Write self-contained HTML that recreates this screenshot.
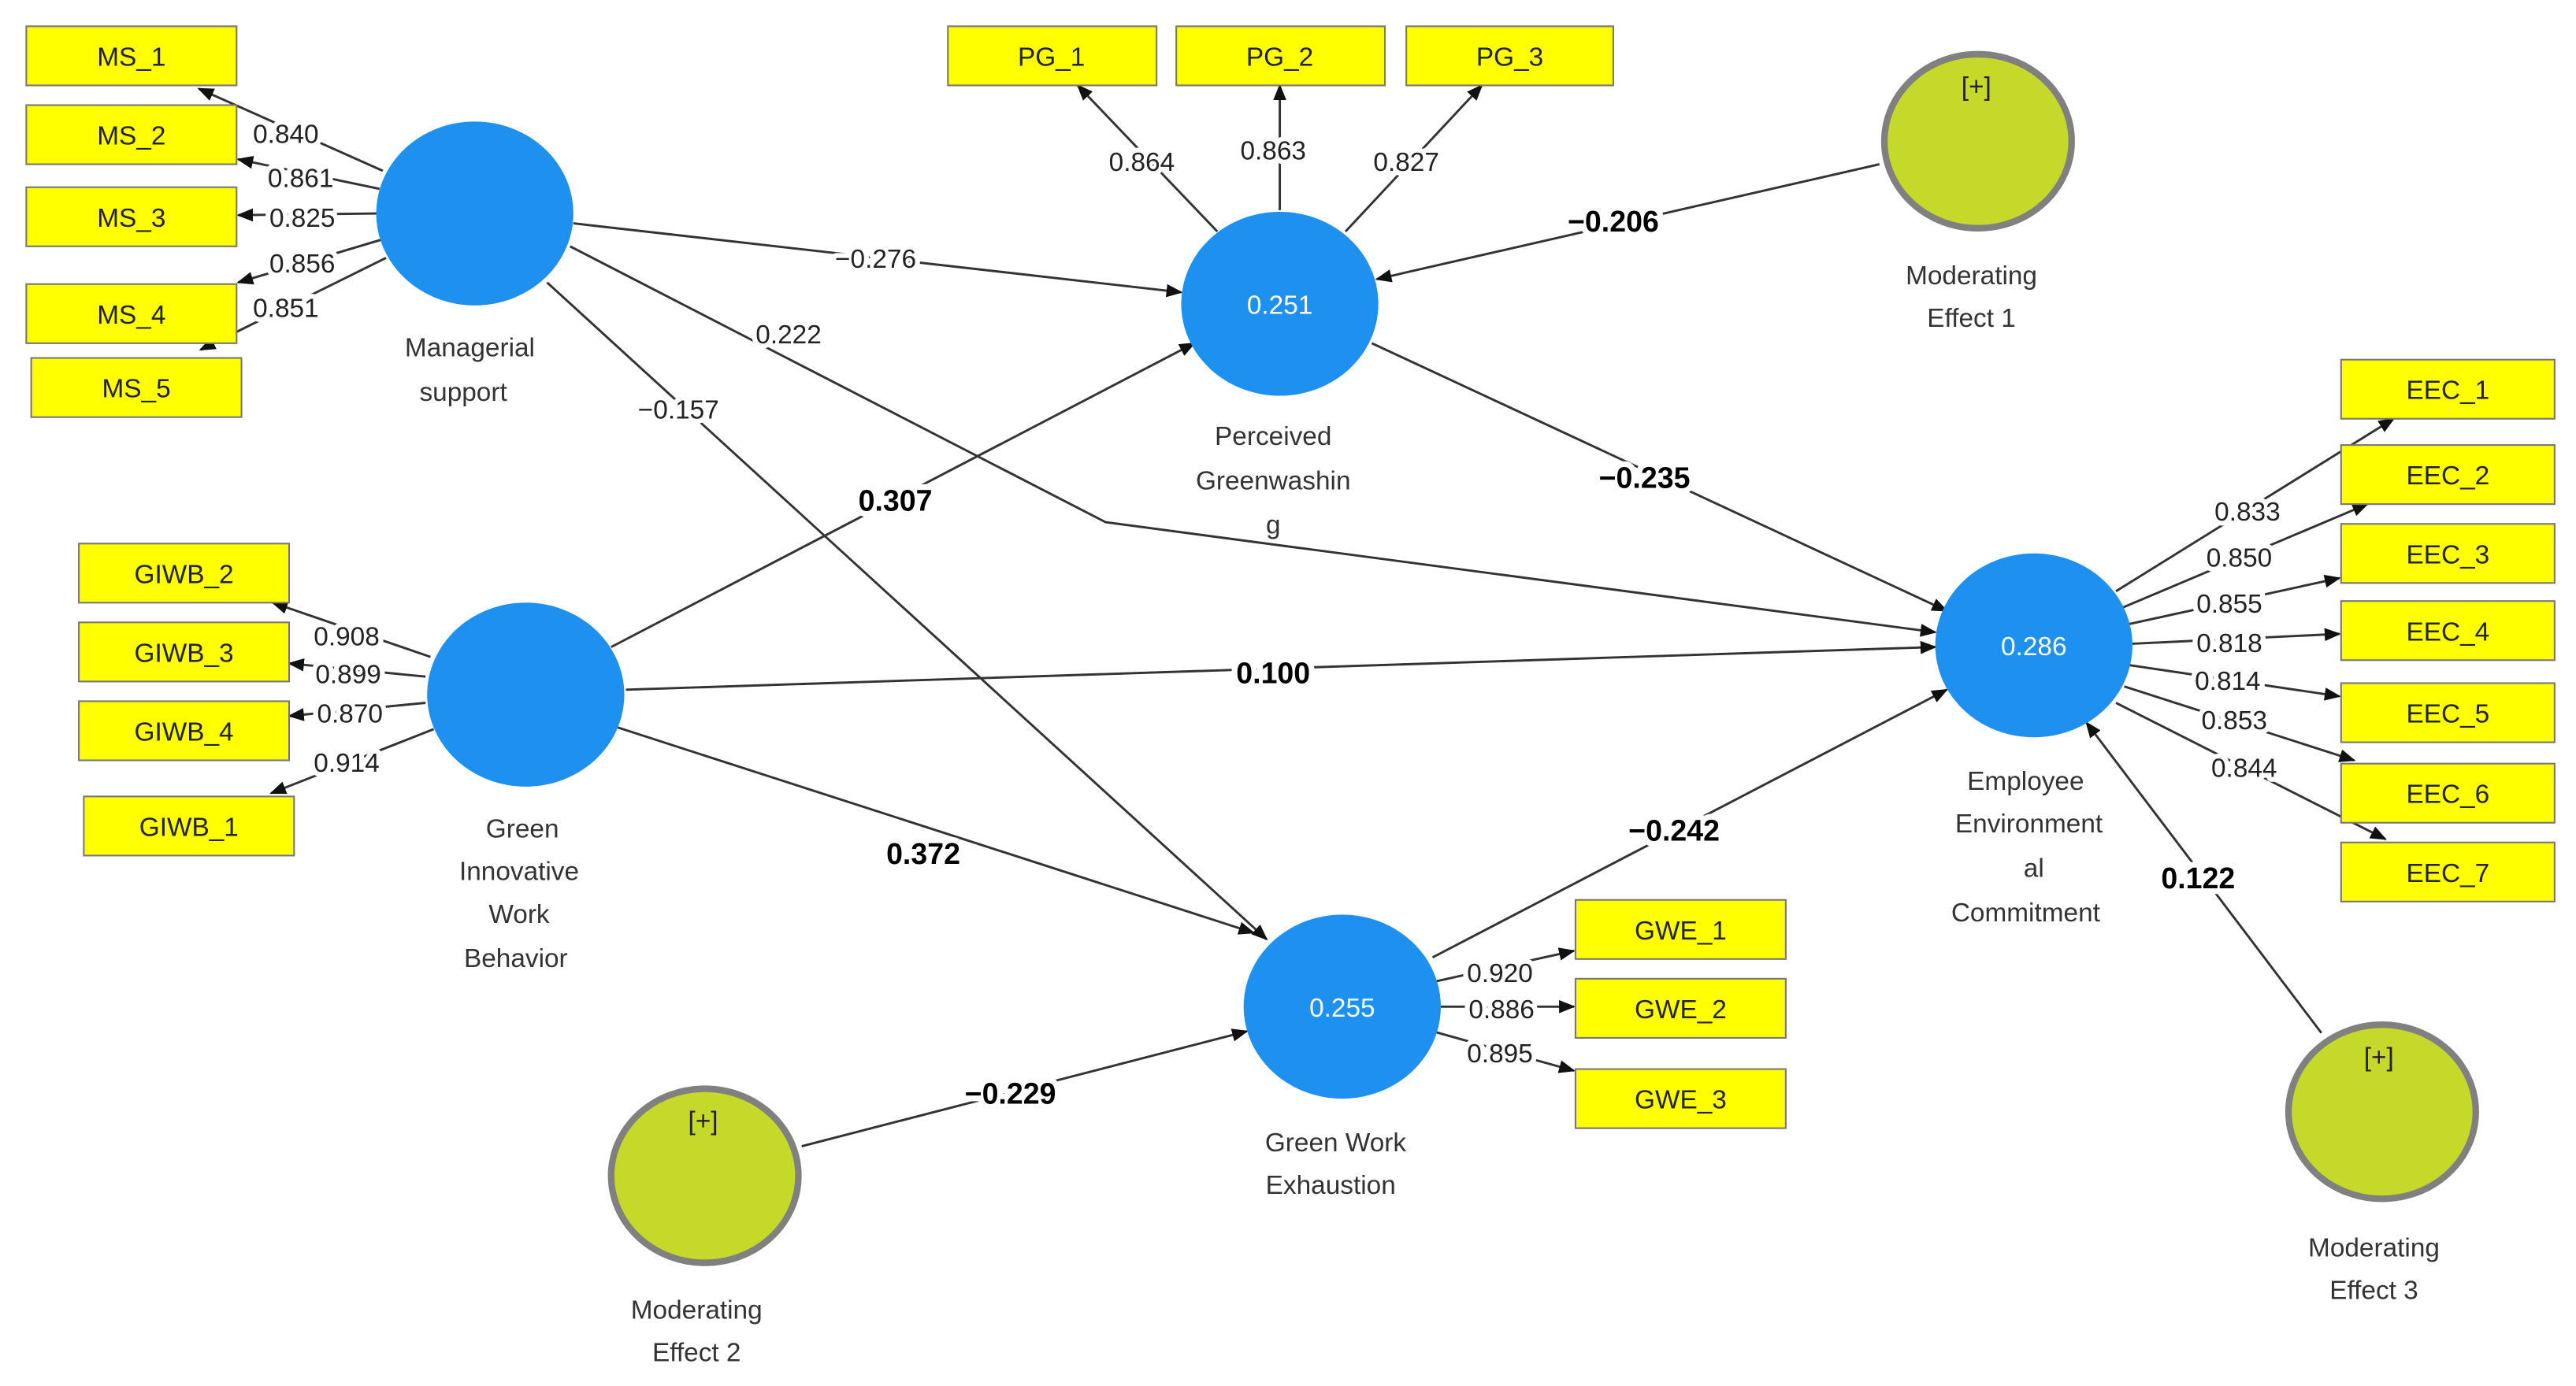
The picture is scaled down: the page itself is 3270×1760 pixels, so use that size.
<!DOCTYPE html>
<html><head><meta charset="utf-8"><style>
html,body{margin:0;padding:0;background:#fff;width:3270px;height:1760px;overflow:hidden}
svg{display:block}
text{font-family:"Liberation Sans","DejaVu Sans",sans-serif}
.l{font-size:16px;fill:#222;text-anchor:middle;stroke:#fff;stroke-width:6px;paint-order:stroke;stroke-linejoin:round}
.b{font-size:18px;font-weight:bold;fill:#000;text-anchor:middle;stroke:#fff;stroke-width:7px;paint-order:stroke;stroke-linejoin:round}
.c{font-size:16px;fill:#333;text-anchor:middle}
.bx{fill:#ffff00;stroke:#777;stroke-width:1}
.bt{font-size:16px;fill:#222;text-anchor:middle}
.ln{stroke:#333;stroke-width:1.4;fill:none;marker-end:url(#a)}
.bl{fill:#1e90f0}
.md{fill:#c5d92a;stroke:#808080;stroke-width:4}
.w{font-size:16px;fill:#fff;text-anchor:middle}
</style></head><body>
<svg width="3270" height="1760" viewBox="0 0 1568 844" preserveAspectRatio="none">
<defs><marker id="a" markerWidth="10" markerHeight="8" refX="9" refY="4" orient="auto" markerUnits="userSpaceOnUse"><path d="M0,0 L10,4 L0,8 z" fill="#111"/></marker></defs>

<!-- structural paths -->
<line class="ln" x1="349" y1="136" x2="719" y2="178"/>
<polyline class="ln" points="347,150 673,318 1178,385"/>
<line class="ln" x1="333" y1="172" x2="771" y2="572"/>
<line class="ln" x1="372" y1="394" x2="727" y2="209"/>
<line class="ln" x1="381" y1="420" x2="1178" y2="394"/>
<line class="ln" x1="376" y1="443" x2="763" y2="568"/>
<line class="ln" x1="835" y1="209" x2="1185" y2="372"/>
<line class="ln" x1="1144" y1="100" x2="838" y2="170"/>
<line class="ln" x1="872" y1="583" x2="1185" y2="420"/>
<line class="ln" x1="488" y1="698" x2="759" y2="628"/>
<line class="ln" x1="1413" y1="629" x2="1270" y2="440"/>

<!-- outer loadings -->
<line class="ln" x1="233" y1="104" x2="121" y2="54"/>
<line class="ln" x1="231" y1="115" x2="145" y2="97"/>
<line class="ln" x1="230" y1="130" x2="145" y2="131"/>
<line class="ln" x1="232" y1="146" x2="145" y2="172"/>
<line class="ln" x1="235" y1="157" x2="122" y2="213"/>
<line class="ln" x1="741" y1="141" x2="656" y2="52"/>
<line class="ln" x1="779" y1="128" x2="779" y2="52"/>
<line class="ln" x1="819" y1="141" x2="902" y2="52"/>
<line class="ln" x1="262" y1="400" x2="166" y2="367"/>
<line class="ln" x1="259" y1="412" x2="176" y2="404"/>
<line class="ln" x1="259" y1="428" x2="176" y2="436"/>
<line class="ln" x1="264" y1="444" x2="165" y2="483"/>
<line class="ln" x1="1288" y1="360" x2="1457" y2="255"/>
<line class="ln" x1="1292" y1="370" x2="1441" y2="307"/>
<line class="ln" x1="1296" y1="380" x2="1424" y2="352"/>
<line class="ln" x1="1298" y1="392" x2="1424" y2="386"/>
<line class="ln" x1="1296" y1="405" x2="1424" y2="424"/>
<line class="ln" x1="1293" y1="418" x2="1433" y2="463"/>
<line class="ln" x1="1288" y1="428" x2="1452" y2="511"/>
<line class="ln" x1="872" y1="598" x2="958" y2="579"/>
<line class="ln" x1="877" y1="613" x2="958" y2="613"/>
<line class="ln" x1="872" y1="628" x2="958" y2="652"/>

<!-- labels -->
<text class="l" x="533" y="163">−0.276</text>
<text class="l" x="480" y="209">0.222</text>
<text class="l" x="413" y="255">−0.157</text>
<text class="b" x="545" y="311">0.307</text>
<text class="b" x="775" y="416">0.100</text>
<text class="b" x="562" y="526">0.372</text>
<text class="b" x="1001" y="297">−0.235</text>
<text class="b" x="982" y="141">−0.206</text>
<text class="b" x="1019" y="512">−0.242</text>
<text class="b" x="615" y="672">−0.229</text>
<text class="b" x="1338" y="541">0.122</text>

<text class="l" x="174" y="87">0.840</text>
<text class="l" x="183" y="114">0.861</text>
<text class="l" x="184" y="138">0.825</text>
<text class="l" x="184" y="166">0.856</text>
<text class="l" x="174" y="193">0.851</text>
<text class="l" x="695" y="104">0.864</text>
<text class="l" x="775" y="97">0.863</text>
<text class="l" x="856" y="104">0.827</text>
<text class="l" x="211" y="393">0.908</text>
<text class="l" x="212" y="416">0.899</text>
<text class="l" x="213" y="440">0.870</text>
<text class="l" x="211" y="470">0.914</text>
<text class="l" x="1368" y="317">0.833</text>
<text class="l" x="1363" y="345">0.850</text>
<text class="l" x="1357" y="373">0.855</text>
<text class="l" x="1357" y="397">0.818</text>
<text class="l" x="1356" y="420">0.814</text>
<text class="l" x="1360" y="444">0.853</text>
<text class="l" x="1366" y="473">0.844</text>
<text class="l" x="913" y="598">0.920</text>
<text class="l" x="914" y="620">0.886</text>
<text class="l" x="913" y="647">0.895</text>

<!-- circles -->
<ellipse class="bl" cx="289" cy="130" rx="60" ry="56"/>
<ellipse class="bl" cx="779" cy="185" rx="60" ry="56"/><text class="w" x="779" y="191">0.251</text>
<ellipse class="bl" cx="320" cy="423" rx="60" ry="56"/>
<ellipse class="bl" cx="817" cy="613" rx="60" ry="56"/><text class="w" x="817" y="619">0.255</text>
<ellipse class="bl" cx="1238" cy="393" rx="60" ry="56"/><text class="w" x="1238" y="399">0.286</text>
<ellipse class="md" cx="1204" cy="86" rx="57" ry="53"/><text class="bt" x="1203" y="58">[+]</text>
<ellipse class="md" cx="429" cy="716" rx="57" ry="53"/><text class="bt" x="428" y="688">[+]</text>
<ellipse class="md" cx="1450" cy="677" rx="57" ry="53"/><text class="bt" x="1448" y="649">[+]</text>

<!-- captions -->
<text class="c" x="286" y="217">Managerial</text><text class="c" x="282" y="244">support</text>
<text class="c" x="775" y="271">Perceived</text><text class="c" x="775" y="298">Greenwashin</text><text class="c" x="775" y="325">g</text>
<text class="c" x="318" y="510">Green</text><text class="c" x="316" y="536">Innovative</text><text class="c" x="316" y="562">Work</text><text class="c" x="314" y="589">Behavior</text>
<text class="c" x="813" y="701">Green Work</text><text class="c" x="810" y="727">Exhaustion</text>
<text class="c" x="1233" y="481">Employee</text><text class="c" x="1235" y="507">Environment</text><text class="c" x="1238" y="534">al</text><text class="c" x="1233" y="561">Commitment</text>
<text class="c" x="1200" y="173">Moderating</text><text class="c" x="1200" y="199">Effect 1</text>
<text class="c" x="424" y="803">Moderating</text><text class="c" x="424" y="829">Effect 2</text>
<text class="c" x="1445" y="765">Moderating</text><text class="c" x="1445" y="791">Effect 3</text>

<!-- boxes -->
<rect class="bx" x="16" y="16" width="128" height="36"/><text class="bt" x="80" y="40">MS_1</text>
<rect class="bx" x="16" y="64" width="128" height="36"/><text class="bt" x="80" y="88">MS_2</text>
<rect class="bx" x="16" y="114" width="128" height="36"/><text class="bt" x="80" y="138">MS_3</text>
<rect class="bx" x="16" y="173" width="128" height="36"/><text class="bt" x="80" y="197">MS_4</text>
<rect class="bx" x="19" y="218" width="128" height="36"/><text class="bt" x="83" y="242">MS_5</text>
<rect class="bx" x="577" y="16" width="127" height="36"/><text class="bt" x="640" y="40">PG_1</text>
<rect class="bx" x="716" y="16" width="127" height="36"/><text class="bt" x="779" y="40">PG_2</text>
<rect class="bx" x="856" y="16" width="126" height="36"/><text class="bt" x="919" y="40">PG_3</text>
<rect class="bx" x="48" y="331" width="128" height="36"/><text class="bt" x="112" y="355">GIWB_2</text>
<rect class="bx" x="48" y="379" width="128" height="36"/><text class="bt" x="112" y="403">GIWB_3</text>
<rect class="bx" x="48" y="427" width="128" height="36"/><text class="bt" x="112" y="451">GIWB_4</text>
<rect class="bx" x="51" y="485" width="128" height="36"/><text class="bt" x="115" y="509">GIWB_1</text>
<rect class="bx" x="1425" y="219" width="130" height="36"/><text class="bt" x="1490" y="243">EEC_1</text>
<rect class="bx" x="1425" y="271" width="130" height="36"/><text class="bt" x="1490" y="295">EEC_2</text>
<rect class="bx" x="1425" y="319" width="130" height="36"/><text class="bt" x="1490" y="343">EEC_3</text>
<rect class="bx" x="1425" y="366" width="130" height="36"/><text class="bt" x="1490" y="390">EEC_4</text>
<rect class="bx" x="1425" y="416" width="130" height="36"/><text class="bt" x="1490" y="440">EEC_5</text>
<rect class="bx" x="1425" y="465" width="130" height="36"/><text class="bt" x="1490" y="489">EEC_6</text>
<rect class="bx" x="1425" y="513" width="130" height="36"/><text class="bt" x="1490" y="537">EEC_7</text>
<rect class="bx" x="959" y="548" width="128" height="36"/><text class="bt" x="1023" y="572">GWE_1</text>
<rect class="bx" x="959" y="596" width="128" height="36"/><text class="bt" x="1023" y="620">GWE_2</text>
<rect class="bx" x="959" y="651" width="128" height="36"/><text class="bt" x="1023" y="675">GWE_3</text>
</svg>
</body></html>
